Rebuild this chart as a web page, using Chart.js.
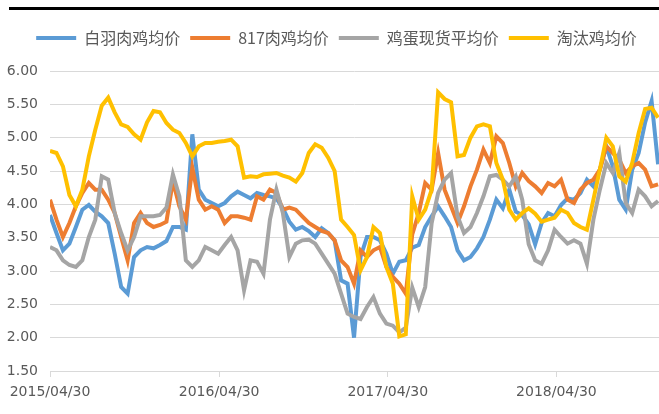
<!DOCTYPE html>
<html>
<head>
<meta charset="utf-8">
<script src="https://cdn.jsdelivr.net/npm/chart.js@4.4.1/dist/chart.umd.min.js"></script>
<style>
  html, body { margin: 0; padding: 0; background: #fff; }
  #wrap { position: relative; width: 659px; height: 414px; }
  #topbar { position: absolute; left: 9px; top: 7px; width: 650px; height: 3px; background: #000; }
</style>
</head>
<body>
<div id="wrap">
  <div id="topbar"></div>
  <canvas id="graph"></canvas>
</div>
<script>
// one sample every 14 days, starting 2015/04/30
const startDate = new Date(2015, 3, 30);
const stepDays = 14;

const seriesNames = ['白羽肉鸡均价', '817肉鸡均价', '鸡蛋现货平均价', '淘汰鸡均价'];
const tickLabels = ['2015/04/30', '2016/04/30', '2017/04/30', '2018/04/30'];

const baiyu = [3.84, 3.57, 3.31, 3.41, 3.66, 3.92, 3.99, 3.89, 3.82, 3.72,
  3.26, 2.76, 2.66, 3.21, 3.31, 3.36, 3.34, 3.39, 3.45, 3.66,
  3.66, 3.62, 5.05, 4.22, 4.07, 4.02, 3.97, 4.02, 4.12, 4.19,
  4.14, 4.09, 4.17, 4.14, 4.12, 4.09, 3.94, 3.74, 3.62, 3.66,
  3.60, 3.51, 3.64, 3.57, 3.46, 2.86, 2.81, 2.00, 3.21, 3.51,
  3.51, 3.46, 3.26, 2.96, 3.14, 3.16, 3.35, 3.39, 3.66, 3.82,
  3.97, 3.82, 3.66, 3.31, 3.16, 3.21, 3.34, 3.51, 3.77, 4.07,
  3.94, 4.22, 3.89, 3.84, 3.70, 3.40, 3.72, 3.87, 3.82, 3.99,
  4.09, 4.07, 4.17, 4.37, 4.27, 4.52, 4.87, 4.57, 4.07, 3.92,
  4.52, 4.77, 5.23, 5.55, 4.60];

const rouji817 = [4.07, 3.77, 3.51, 3.72, 3.97, 4.17, 4.32, 4.22, 4.22, 4.07,
  3.87, 3.51, 3.16, 3.72, 3.87, 3.72, 3.66, 3.69, 3.74, 4.35,
  3.97, 3.77, 4.55, 4.07, 3.92, 3.97, 3.92, 3.72, 3.82, 3.82,
  3.80, 3.77, 4.12, 4.07, 4.22, 4.17, 3.92, 3.95, 3.92, 3.82,
  3.72, 3.66, 3.60, 3.57, 3.46, 3.16, 3.06, 2.81, 3.31, 3.21,
  3.31, 3.36, 3.06, 2.91, 2.81, 2.66, 3.55, 3.87, 4.32, 4.22,
  4.77, 4.22, 3.97, 3.72, 3.97, 4.27, 4.52, 4.82, 4.62, 5.02,
  4.92, 4.62, 4.27, 4.47, 4.35, 4.27, 4.17, 4.32, 4.27, 4.37,
  4.07, 4.02, 4.22, 4.32, 4.37, 4.52, 4.87, 4.77, 4.67, 4.47,
  4.57, 4.62, 4.52, 4.27, 4.30];

const jidan = [3.36, 3.31, 3.16, 3.09, 3.06, 3.16, 3.51, 3.77, 4.42, 4.37,
  3.87, 3.57, 3.31, 3.51, 3.82, 3.82, 3.82, 3.84, 3.95, 4.45,
  4.12, 3.16, 3.06, 3.16, 3.36, 3.31, 3.26, 3.39, 3.51, 3.31,
  2.71, 3.16, 3.14, 2.96, 3.77, 4.22, 3.87, 3.21, 3.41, 3.46,
  3.47, 3.41, 3.26, 3.11, 2.96, 2.66, 2.36, 2.31, 2.28, 2.46,
  2.61, 2.36, 2.21, 2.18, 2.08, 2.15, 2.75, 2.46, 2.76, 3.72,
  4.17, 4.37, 4.47, 3.82, 3.57, 3.66, 3.87, 4.12, 4.42, 4.44,
  4.37, 4.27, 4.42, 4.07, 3.40, 3.16, 3.11, 3.31, 3.62, 3.51,
  3.41, 3.46, 3.41, 3.11, 3.77, 4.22, 4.62, 4.47, 4.77, 4.02,
  3.87, 4.22, 4.12, 3.97, 4.05];

const taotai = [4.80, 4.77, 4.57, 4.14, 3.97, 4.22, 4.72, 5.12, 5.48, 5.60,
  5.38, 5.20, 5.16, 5.05, 4.97, 5.23, 5.40, 5.38, 5.22, 5.12,
  5.07, 4.92, 4.72, 4.87, 4.92, 4.92, 4.94, 4.95, 4.97, 4.87,
  4.40, 4.42, 4.41, 4.45, 4.46, 4.47, 4.43, 4.40, 4.34, 4.47,
  4.77, 4.90, 4.85, 4.70, 4.50, 3.77, 3.66, 3.54, 3.01, 3.21,
  3.66, 3.57, 3.06, 2.81, 2.02, 2.05, 4.12, 3.77, 3.92, 4.22,
  5.68, 5.58, 5.53, 4.72, 4.74, 5.00, 5.17, 5.20, 5.17, 4.62,
  4.37, 3.92, 3.77, 3.87, 3.94, 3.86, 3.74, 3.77, 3.80, 3.92,
  3.87, 3.72, 3.66, 3.62, 4.07, 4.52, 5.00, 4.87, 4.42, 4.34,
  4.62, 5.07, 5.43, 5.45, 5.30];

const colors = ['#5B9BD5', '#ED7D31', '#A5A5A5', '#FFC000'];
const allSeries = [baiyu, rouji817, jidan, taotai];

function dayOffset(label) {
  const p = label.split('/').map(Number);
  return Math.round((new Date(p[0], p[1] - 1, p[2]) - startDate) / 86400000);
}
const tickDays = tickLabels.map(dayOffset);

const datasets = allSeries.map((vals, k) => ({
  label: seriesNames[k],
  data: vals.map((v, i) => ({ x: i * stepDays, y: v })),
  borderColor: colors[k],
  backgroundColor: colors[k],
  borderWidth: 4,
  pointRadius: 0,
  tension: 0,
  order: 4 - k   // last series painted on top, like the original
}));

// extra room under the legend, and nudge it a bit right
const legendTweak = {
  id: 'legendTweak',
  beforeInit(chart) {
    const fit = chart.legend.fit;
    chart.legend.fit = function () {
      fit.bind(chart.legend)();
      this.height += 15;
    };
  },
  afterLayout(chart) {
    chart.legend.left += 7;
    chart.legend.right += 7;
  }
};

const ctx = document.getElementById('graph').getContext('2d');
new Chart(ctx, {
  type: 'line',
  data: { datasets: datasets },
  options: {
    responsive: true,
    maintainAspectRatio: false,
    animation: false,
    layout: { padding: { top: 20, left: 0, right: 0, bottom: 0 } },
    plugins: {
      legend: {
        position: 'top',
        labels: {
          usePointStyle: true,
          pointStyle: 'line',
          pointStyleWidth: 40,
          padding: 10,
          color: '#595959',
          font: { family: "'Noto Sans CJK SC', 'DejaVu Sans', sans-serif", size: 16 },
          sort: (a, b) => a.datasetIndex - b.datasetIndex
        }
      },
      tooltip: { enabled: false }
    },
    scales: {
      x: {
        type: 'linear',
        min: 0,
        max: 1318,
        afterFit(scale) { scale.height = 43; },
        afterBuildTicks(scale) { scale.ticks = tickDays.map(v => ({ value: v })); },
        grid: { drawOnChartArea: false, drawTicks: true, tickLength: 6, color: '#d9d9d9' },
        border: { color: '#d9d9d9' },
        ticks: {
          autoSkip: false,
          maxRotation: 0,
          padding: 7,
          color: '#595959',
          font: { family: "'DejaVu Sans', sans-serif", size: 14 },
          callback: (v, i) => tickLabels[i]
        }
      },
      y: {
        min: 1.5,
        max: 6,
        afterFit(scale) { scale.width = 50; },
        grid: { color: '#d9d9d9', drawTicks: false },
        border: { display: false },
        ticks: {
          stepSize: 0.5,
          padding: 12,
          color: '#595959',
          font: { family: "'DejaVu Sans', sans-serif", size: 14 },
          callback: v => v.toFixed(2)
        }
      }
    }
  },
  plugins: [legendTweak]
});
</script>
</body>
</html>
